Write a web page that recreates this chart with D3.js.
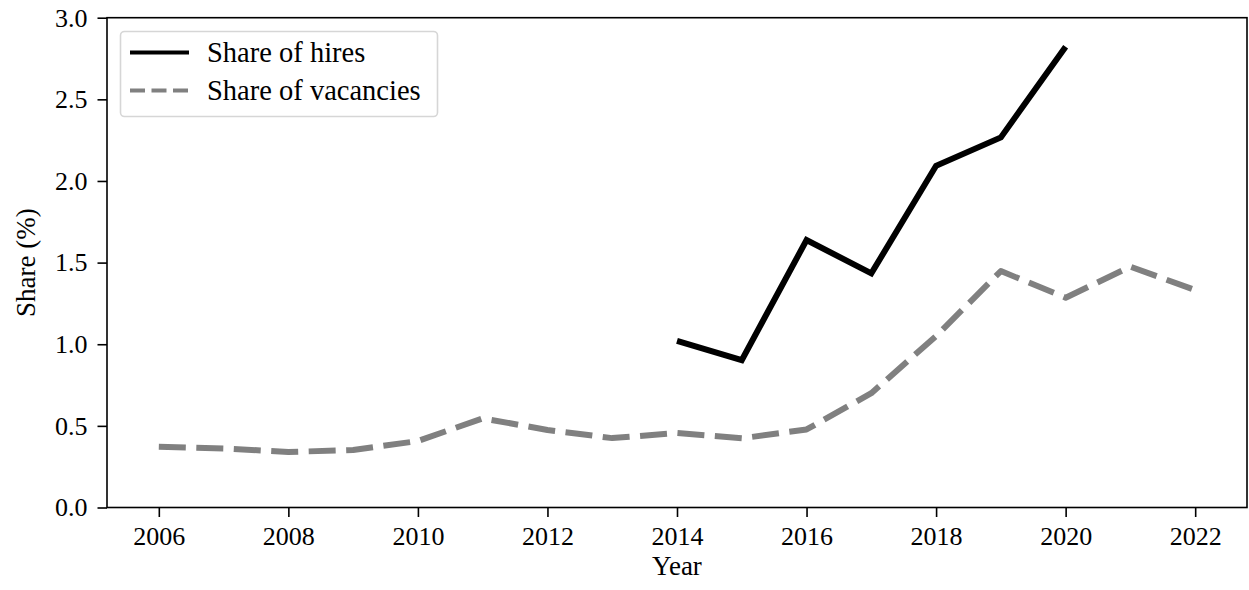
<!DOCTYPE html>
<html>
<head>
<meta charset="utf-8">
<script src="https://cdn.jsdelivr.net/npm/d3@7/dist/d3.min.js"></script>
<style>
  html, body { margin: 0; padding: 0; background: #fff; }
  svg { display: block; }
  svg text { font-family: "Liberation Serif", "DejaVu Serif", serif; }
</style>
</head>
<body>
<svg id="chart" width="1249" height="590"></svg>
<script>
// Share of hires and vacancies by year (%)
const years = [2006, 2007, 2008, 2009, 2010, 2011, 2012, 2013, 2014, 2015, 2016, 2017, 2018, 2019, 2020, 2021, 2022];
const vacancyShare = [0.372, 0.362, 0.340, 0.352, 0.407, 0.546, 0.475, 0.425, 0.456, 0.424, 0.478, 0.700, 1.050, 1.448, 1.285, 1.475, 1.332];
const hireYears = [2014, 2015, 2016, 2017, 2018, 2019, 2020];
const hireShare = [1.020, 0.903, 1.638, 1.434, 2.093, 2.267, 2.822];
const xTicks = [2006, 2008, 2010, 2012, 2014, 2016, 2018, 2020, 2022];
const yTicks = [0.0, 0.5, 1.0, 1.5, 2.0, 2.5, 3.0];
const seriesNames = ["Share of hires", "Share of vacancies"];

const svg = d3.select("#chart");
const margin = { left: 107, right: 2, top: 17.7, bottom: 82.5 };
const W = 1249, H = 590;
const serif = '"Liberation Serif", "DejaVu Serif", serif';

const x = d3.scaleLinear().domain([2005.2, 2022.8]).range([margin.left, W - margin.right]);
const y = d3.scaleLinear().domain([0, 3]).range([H - margin.bottom, margin.top]);

const fontSize = 26;

// Lines
const line = d3.line().x(d => x(d[0])).y(d => y(d[1]));

svg.append("path")
  .datum(years.map((yr, i) => [yr, vacancyShare[i]]))
  .attr("d", line)
  .attr("fill", "none")
  .attr("stroke", "#808080")
  .attr("stroke-width", 6)
  .attr("stroke-dasharray", "27,10.5")
  .attr("stroke-linejoin", "round");

svg.append("path")
  .datum(hireYears.map((yr, i) => [yr, hireShare[i]]))
  .attr("d", line)
  .attr("fill", "none")
  .attr("stroke", "#000")
  .attr("stroke-width", 6)
  .attr("stroke-linejoin", "miter");

// Axes
const xAxis = d3.axisBottom(x).tickValues(xTicks).tickFormat(d3.format("d")).tickSize(9.5).tickPadding(10);
const yAxis = d3.axisLeft(y).tickValues(yTicks).tickFormat(d3.format(".1f")).tickSize(9.5).tickPadding(10);

const gx = svg.append("g").attr("transform", `translate(0,${H - margin.bottom})`).call(xAxis);
const gy = svg.append("g").attr("transform", `translate(${margin.left},0)`).call(yAxis);

[gx, gy].forEach(g => {
  g.attr("font-family", serif).attr("font-size", fontSize);
  g.select(".domain").remove();
  g.selectAll(".tick line").attr("stroke", "#000").attr("stroke-width", 1.6);
  g.selectAll(".tick text").attr("fill", "#000");
});

// Frame
svg.append("rect")
  .attr("x", x.range()[0]).attr("y", y.range()[1])
  .attr("width", x.range()[1] - x.range()[0])
  .attr("height", y.range()[0] - y.range()[1])
  .attr("fill", "none").attr("stroke", "#000").attr("stroke-width", 1.6);

// Axis labels
svg.append("text")
  .attr("x", (x.range()[0] + x.range()[1]) / 2)
  .attr("y", 575)
  .attr("text-anchor", "middle")
  .style("font-size", "27px")
  .text("Year");

svg.append("text")
  .attr("transform", `translate(35,${(y.range()[0] + y.range()[1]) / 2}) rotate(-90)`)
  .attr("text-anchor", "middle")
  .style("font-size", "27px")
  .text("Share (%)");

// Legend
const legend = svg.append("g");
legend.append("rect")
  .attr("x", 120.5).attr("y", 31.5)
  .attr("width", 317).attr("height", 85)
  .attr("rx", 4).attr("ry", 4)
  .attr("fill", "rgba(255,255,255,0.8)")
  .attr("stroke", "#d6d6d6").attr("stroke-width", 1.6);

const legendItems = [
  { name: seriesNames[0], color: "#000", dash: null, yPos: 52.5 },
  { name: seriesNames[1], color: "#808080", dash: "15,6.5", yPos: 90.5 }
];
legendItems.forEach(item => {
  legend.append("line")
    .attr("x1", 130).attr("x2", 189)
    .attr("y1", item.yPos).attr("y2", item.yPos)
    .attr("stroke", item.color).attr("stroke-width", 4)
    .attr("stroke-dasharray", item.dash);
  legend.append("text")
    .attr("x", 207).attr("y", item.yPos)
    .attr("dy", "0.35em")
    .style("font-size", "28.5px")
    .text(item.name);
});
</script>
</body>
</html>
